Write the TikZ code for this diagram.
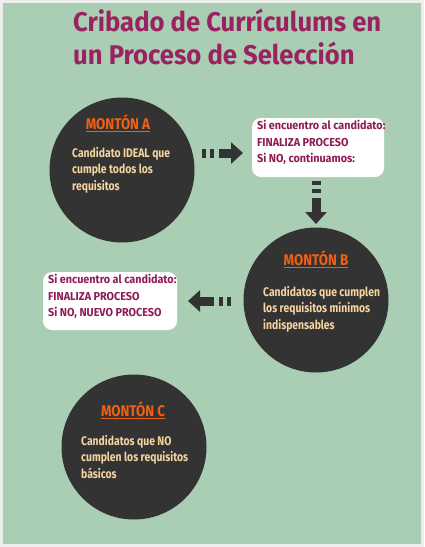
\documentclass[tikz,border=0pt]{standalone}
\usepackage{fontspec}
\setmainfont{Fira Sans}[FakeStretch=0.86]
\newfontfamily\titlefont{Fira Sans}[FakeStretch=0.95]
\newfontfamily\boxfont{Fira Sans}[FakeStretch=0.94]
\newfontfamily\bodyfont{Fira Sans}[FakeStretch=0.83]
\usetikzlibrary{arrows.meta}
\definecolor{bgframe}{RGB}{236,238,236}
\definecolor{bggreen}{RGB}{169,206,180}
\definecolor{circ}{RGB}{51,51,51}
\definecolor{titlec}{RGB}{155,34,96}
\definecolor{headc}{RGB}{240,96,20}
\definecolor{bodyc}{RGB}{245,212,160}
\definecolor{boxtext}{RGB}{142,28,84}
\tikzset{
  pile/.style={circle, fill=circ, minimum size=145pt, inner sep=0pt},
  pilehead/.style={text=headc, font=\fontsize{15.5}{17}\selectfont\bfseries, inner sep=0pt},
  pilebody/.style={text=bodyc, font=\bodyfont\fontsize{12.5}{16.5}\selectfont\bfseries, align=left, anchor=north west, inner sep=0pt},
  infobox/.style={rectangle, rounded corners=9pt, fill=white, inner sep=0pt},
  infotext/.style={text=boxtext, font=\boxfont\fontsize{11.5}{16.5}\selectfont\bfseries, align=left, anchor=north west, inner sep=0pt},
  blockarr/.style={draw=circ, line width=9pt, dash pattern=on 4pt off 4pt on 4pt off 5pt on 40pt, -{Triangle[width=21pt,length=12pt]}},
  titletext/.style={text=titlec, font=\titlefont\fontsize{27}{33}\selectfont\bfseries, anchor=west, inner sep=0pt}
}
\begin{document}
\begin{tikzpicture}[x=1pt,y=-1pt]
\useasboundingbox (0,0) rectangle (424,547);
\fill[bgframe] (0,0) rectangle (424,547);
\fill[bggreen] (3,3) rectangle (421,544);
% title
\node[titletext] (t1) at (73,20) {Cribado de Currículums en};
\node[titletext] (t2) at (73,53) {un Proceso de Selección};
% circles
\node[pile] (cA) at (122,170) {};
\node[pile] (cB) at (316,300) {};
\node[pile] (cC) at (134,447) {};
% headings
\node[pilehead] (hA) at (118,123) {\underline{MONTÓN A}};
\node[pilehead] (hB) at (316,259) {\underline{MONTÓN B}};
\node[pilehead] (hC) at (133,410) {\underline{MONTÓN C}};
% bodies
\node[pilebody] (bA) at (72,147) {Candidato IDEAL que\\cumple todos los\\requisitos};
\node[pilebody] (bB) at (263,286) {Candidatos que cumplen\\los requisitos mínimos\\indispensables};
\node[pilebody] (bC) at (81,435) {Candidatos que NO\\cumplen los requisitos\\básicos};
% info boxes
\node[infobox, minimum width=132pt, minimum height=59pt] (x1) at (318,147.5) {};
\node[infotext] (x1t) at (257,120) {Si encuentro al candidato:\\FINALIZA PROCESO\\Si NO, continuamos:};
\node[infobox, minimum width=134pt, minimum height=58pt] (x2) at (110,301) {};
\node[infotext] (x2t) at (48,274) {Si encuentro al candidato:\\FINALIZA PROCESO\\Si NO, NUEVO PROCESO};
% arrows
\coordinate (a1s) at (202,153);
\coordinate (a1e) at (243,153);
\coordinate (a2s) at (316,181);
\coordinate (a2e) at (316,224);
\coordinate (a3s) at (231,301);
\coordinate (a3e) at (188,301);
\draw[blockarr] (a1s) -- (a1e);
\draw[blockarr] (a2s) -- (a2e);
\draw[blockarr] (a3s) -- (a3e);
\end{tikzpicture}
\end{document}
